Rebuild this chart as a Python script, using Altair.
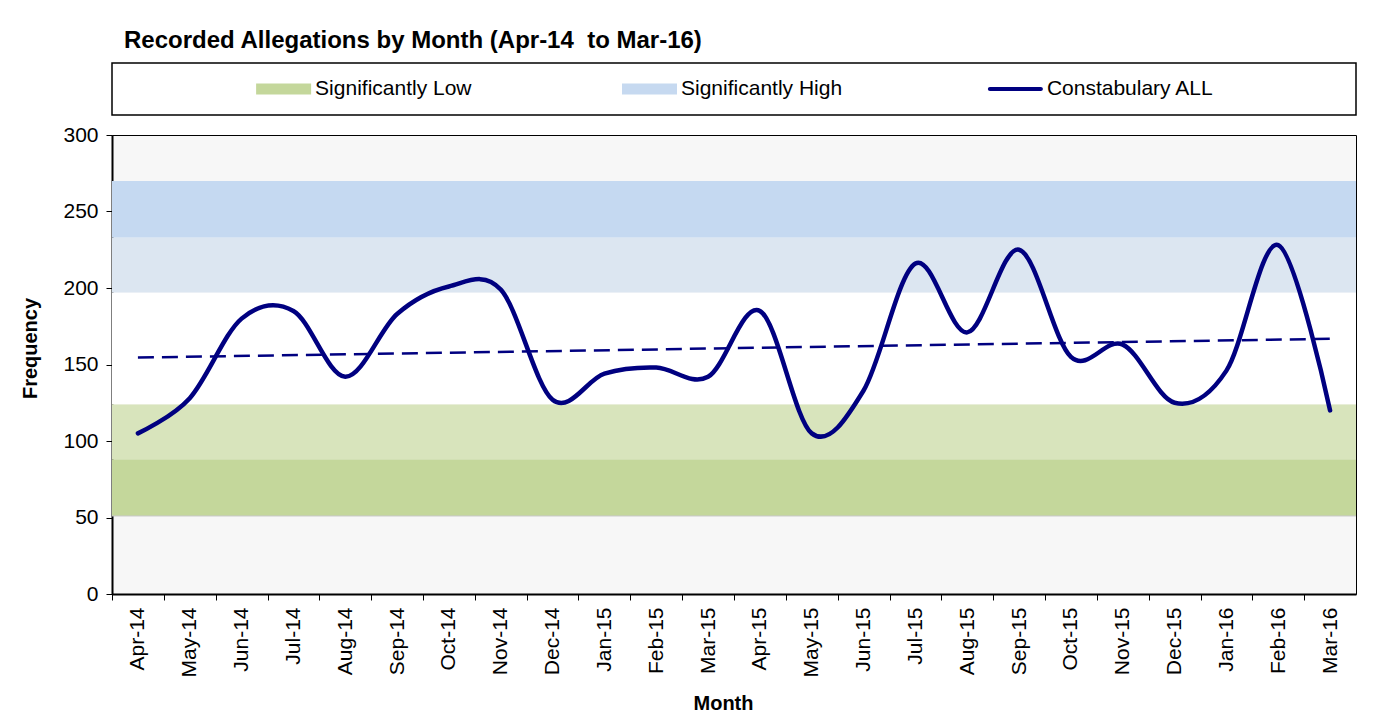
import altair as alt
import pandas as pd

# ---------------- data ----------------
months = ["Apr-14", "May-14", "Jun-14", "Jul-14", "Aug-14", "Sep-14", "Oct-14", "Nov-14",
          "Dec-14", "Jan-15", "Feb-15", "Mar-15", "Apr-15", "May-15", "Jun-15", "Jul-15",
          "Aug-15", "Sep-15", "Oct-15", "Nov-15", "Dec-15", "Jan-16", "Feb-16", "Mar-16"]
allegations = [105, 128, 180, 185, 142, 183, 201, 199,
               127, 144, 148, 142, 185, 105, 133, 216,
               171, 225, 155, 163, 125, 146, 228, 120]

band_names = ["Low outer", "Low inner", "Normal", "High inner", "High outer"]
band_lo = [51, 88, 124, 197, 233]
band_hi = [88, 124, 197, 233, 270]
band_colors = ["#C4D79B", "#D8E4BC", "#FFFFFF", "#DCE6F1", "#C5D9F1"]

legend_names = ["Significantly Low", "Significantly High", "Constabulary ALL"]
legend_colors = ["#C4D79B", "#C6D9F0", "#000080"]
legend_kinds = ["band", "band", "line"]

y_ticks = [0, 50, 100, 150, 200, 250, 300]

df = pd.DataFrame({"idx": list(range(len(months))), "month": months, "value": allegations})
bands = pd.DataFrame({"band": band_names, "lo": band_lo, "hi": band_hi})
leg = pd.DataFrame({"name": legend_names, "color": legend_colors, "kind": legend_kinds})

FONT = "Liberation Sans"
NAVY = "#000080"
W, H = 1244, 459
STEP = W / len(months)

# one tick per month plus a closing one; ticks shifted to category boundaries,
# labels shifted back to category centres
x_ticks = list(range(len(months) + 1))
label_expr = "".join(f"datum.value == {i} ? '{m}' : " for i, m in enumerate(months)) + "''"

x_scale = alt.Scale(domain=[-0.5, len(months) - 0.5], nice=False, zero=False)
y_scale = alt.Scale(domain=[0, 300], nice=False, zero=True)

x_axis = alt.Axis(
    values=x_ticks, labelExpr=label_expr, labelAngle=270, labelAlign="right",
    labelBaseline="middle", labelOverlap=False, labelBound=False, labelFlush=False,
    tickOffset=-STEP / 2, labelOffset=STEP / 2,
    labelFontSize=21, labelPadding=7, tickSize=6, tickWidth=1,
    domainWidth=2, title="Month", titleFontSize=20, titleFontWeight="bold",
    titleX=611, titleY=109, titleAlign="center", titleBaseline="middle",
)
y_axis = alt.Axis(
    values=y_ticks, labelFontSize=21, labelPadding=8, tickSize=6, tickWidth=1,
    domainWidth=2, title="Frequency", titleFontSize=20, titleFontWeight="bold",
    titleAngle=270, titleX=-82, titleY=213, titleAlign="center", titleBaseline="middle",
)

band_layer = alt.Chart(bands).mark_rect().encode(
    y=alt.Y("lo:Q", scale=y_scale),
    y2="hi:Q",
    x=alt.value(0),
    x2=alt.value("width"),
    color=alt.Color("band:N", scale=alt.Scale(domain=band_names, range=band_colors), legend=None),
)

edge_rule = alt.Chart(bands).transform_filter(
    alt.datum.band == band_names[0]
).mark_rule(color="#C8C8C8", strokeWidth=1).encode(
    y=alt.Y("lo:Q", scale=y_scale),
    x=alt.value(0),
    x2=alt.value("width"),
)

trend_layer = alt.Chart(df).transform_regression(
    "idx", "value", extent=[0, len(months) - 1]
).mark_line(color=NAVY, strokeWidth=2.5, strokeDash=[16, 8]).encode(
    x=alt.X("idx:Q", scale=x_scale),
    y=alt.Y("value:Q", scale=y_scale),
)

line_layer = alt.Chart(df).mark_line(
    interpolate="cardinal", color=NAVY, strokeWidth=4.5, strokeCap="round"
).encode(
    x=alt.X("idx:Q", scale=x_scale, axis=x_axis),
    y=alt.Y("value:Q", scale=y_scale, axis=y_axis),
)

main = alt.layer(band_layer, edge_rule, trend_layer, line_layer).properties(
    width=W, height=H,
    view=alt.ViewBackground(fill="#F7F7F7", stroke="#000000", strokeWidth=1),
)

# ---------------- legend panel ----------------
lx = alt.X("name:N", scale=alt.Scale(type="point", domain=legend_names, padding=0.7), axis=None)
leg_base = alt.Chart(leg)

swatch = leg_base.transform_filter(alt.datum.kind == "band").mark_tick(
    orient="horizontal", size=55, thickness=11, xOffset=-84.5, opacity=1
).encode(x=lx, y=alt.value(26), color=alt.Color("color:N", scale=None))

line_swatch = leg_base.transform_filter(alt.datum.kind == "line").mark_tick(
    orient="horizontal", size=55, thickness=4, xOffset=-84.5, opacity=1, cornerRadius=2
).encode(x=lx, y=alt.value(26), color=alt.Color("color:N", scale=None))

leg_text = leg_base.mark_text(
    align="left", baseline="middle", dx=-53, fontSize=21, font=FONT, color="#000000"
).encode(x=lx, y=alt.value(26), text="name:N")

legend_panel = alt.layer(swatch, line_swatch, leg_text).properties(
    width=W, height=52,
    view=alt.ViewBackground(fill="#FFFFFF", stroke="#000000", strokeWidth=1.5),
    title=alt.Title(
        "Recorded Allegations by Month (Apr-14\u00a0 to Mar-16)", anchor="start", frame="group",
        dx=12, offset=10, fontSize=24, font=FONT, fontWeight="bold", color="#000000",
    ),
)

chart = alt.vconcat(legend_panel, main, spacing=20, bounds="flush").properties(
    autosize=alt.AutoSizeParams(type="pad"),
    padding={"left": 11, "top": 20, "right": 20, "bottom": 5},
    background="#FFFFFF",
).configure_axis(
    labelFont=FONT, titleFont=FONT, labelColor="#000000", titleColor="#000000",
    domainColor="#000000", tickColor="#000000", grid=False,
)

chart.save("out.html", embed_options={"renderer": "svg", "actions": False})
